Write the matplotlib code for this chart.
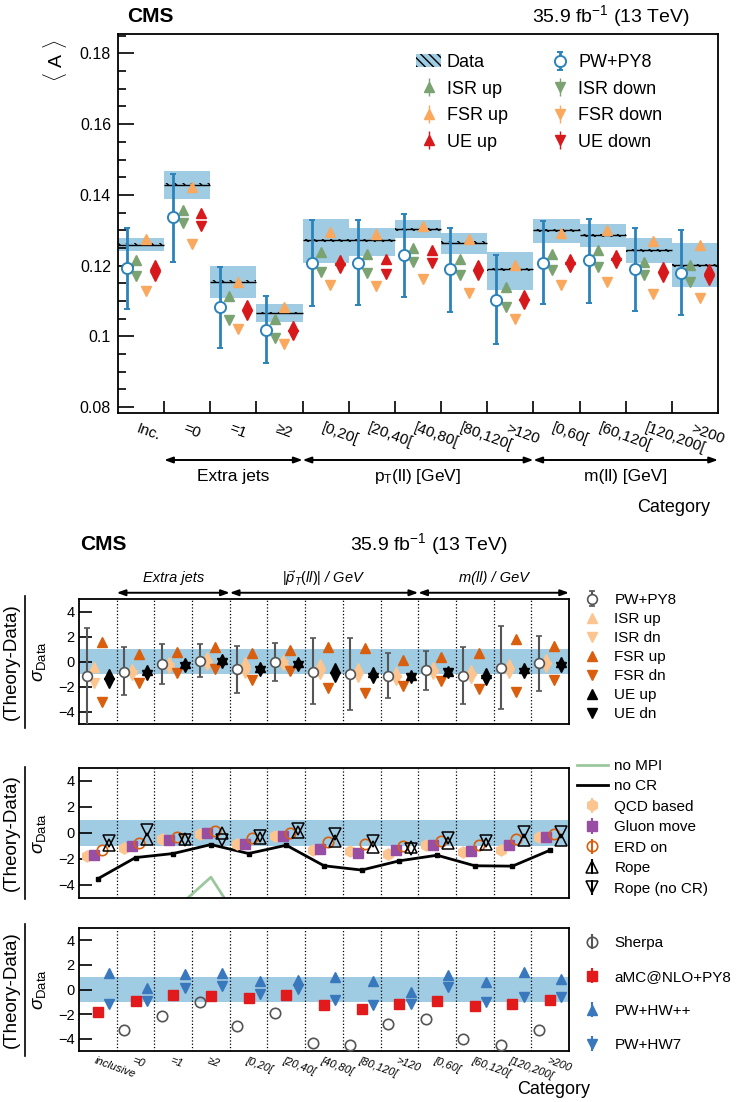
import numpy as np
import matplotlib
matplotlib.use('Agg')
import matplotlib.pyplot as plt
from matplotlib.patches import Patch
from matplotlib.lines import Line2D
from matplotlib.ticker import MultipleLocator

plt.rcParams['font.family'] = ['Liberation Sans', 'DejaVu Sans']
plt.rcParams['mathtext.fontset'] = 'custom'
plt.rcParams['mathtext.rm'] = 'Liberation Sans'
plt.rcParams['mathtext.it'] = 'Liberation Sans:italic'
plt.rcParams['mathtext.bf'] = 'Liberation Sans:bold'
plt.rcParams['hatch.linewidth'] = 1.0

'''
data - top panel <A>
'''
cats_top = ['Inc.', '=0', '=1', '≥2', '[0,20[', '[20,40[', '[40,80[', '[80,120[', '>120',
            '[0,60[', '[60,120[', '[120,200[', '>200']
cats_bot = ['inclusive', '=0', '=1', '≥2', '[0,20[', '[20,40[', '[40,80[', '[80,120[', '>120',
            '[0,60[', '[60,120[', '[120,200[', '>200']

data_A = np.array([0.1259, 0.1429, 0.1154, 0.1066, 0.1272, 0.1272, 0.1303, 0.1265, 0.1189, 0.1300, 0.1286, 0.1243, 0.1201])
data_hi = np.array([0.1279, 0.1468, 0.1199, 0.1092, 0.1333, 0.1307, 0.1328, 0.1293, 0.1239, 0.1333, 0.1319, 0.1279, 0.1264])
data_lo = np.array([0.1241, 0.1388, 0.1108, 0.1040, 0.1208, 0.1226, 0.1278, 0.1234, 0.1132, 0.1264, 0.1253, 0.1206, 0.1140])
pw_A = np.array([0.1192, 0.1336, 0.1083, 0.1019, 0.1206, 0.1208, 0.1229, 0.1189, 0.1102, 0.1206, 0.1215, 0.1189, 0.1179])
pw_hi = np.array([0.1307, 0.1458, 0.1196, 0.1115, 0.1328, 0.1328, 0.1347, 0.1307, 0.1229, 0.1326, 0.1333, 0.1307, 0.1300])
pw_lo = np.array([0.1076, 0.1210, 0.0967, 0.0925, 0.1085, 0.1088, 0.1111, 0.1069, 0.0979, 0.1091, 0.1094, 0.1072, 0.1059])
isr_up = np.array([0.1217, 0.1357, 0.1113, 0.1048, 0.1239, 0.1234, 0.1251, 0.1220, 0.1138, 0.1232, 0.1243, 0.1210, 0.1203])
isr_dn = np.array([0.1170, 0.1319, 0.1045, 0.0995, 0.1182, 0.1179, 0.1210, 0.1173, 0.1083, 0.1187, 0.1196, 0.1173, 0.1154])
fsr_up = np.array([0.1274, 0.1423, 0.1154, 0.1084, 0.1295, 0.1288, 0.1311, 0.1274, 0.1201, 0.1291, 0.1300, 0.1270, 0.1258])
fsr_dn = np.array([0.1127, 0.1262, 0.1022, 0.0977, 0.1144, 0.1142, 0.1163, 0.1123, 0.1050, 0.1144, 0.1154, 0.1121, 0.1107])
ue_up = np.array([0.1203, 0.1349, 0.1088, 0.1028, 0.1215, 0.1220, 0.1243, 0.1201, 0.1117, 0.1220, 0.1229, 0.1196, 0.1189])
ue_dn = np.array([0.1170, 0.1311, 0.1059, 0.1005, 0.1192, 0.1177, 0.1206, 0.1173, 0.1092, 0.1196, 0.1206, 0.1168, 0.1158])

'''
(Theory-Data)/sigma - panel 1
'''
pw1 = np.array([-1.15, -0.8, -0.2, 0.08, -0.6, 0.0, -0.8, -1.0, -1.15, -0.67, -1.12, -0.48, -0.08])
pw1_hi = np.array([2.67, 1.2, 1.4, 1.4, 1.25, 1.47, 1.92, 1.92, 0.72, 0.88, 1.2, 2.88, 2.05])
pw1_lo = np.array([-5.2, -2.67, -1.8, -1.2, -2.48, -1.52, -3.41, -3.9, -2.93, -2.27, -3.39, -3.8, -2.35])
isr1_up = np.array([-0.4, -0.6, 0.0, 0.4, 0.0, 0.13, -0.19, -0.53, -0.8, -0.4, -0.67, -0.19, 0.19])
isr1_dn = np.array([-1.68, -1.1, -0.55, -0.27, -0.93, -0.27, -1.01, -1.2, -1.47, -1.0, -1.33, -0.93, -0.45])
fsr1_up = np.array([1.6, 0.6, 0.8, 1.15, 0.72, 0.93, 1.15, 1.07, 0.13, 0.4, 0.67, 1.81, 1.25])
fsr1_dn = np.array([-3.2, -1.75, -0.9, -0.6, -1.47, -0.72, -2.08, -2.53, -1.95, -1.52, -2.19, -2.4, -1.47])
ue1_up = np.array([-1.0, -0.67, -0.15, 0.2, -0.45, 0.0, -0.53, -0.8, -1.1, -0.72, -0.88, -0.53, 0.0])
ue1_dn = np.array([-1.73, -1.07, -0.4, -0.13, -0.72, -0.35, -1.2, -1.33, -1.3, -0.93, -1.47, -0.93, -0.4])

'''
panel 2 - alternative models
'''
no_mpi = np.array([-12.0, -10.0, -6.0, -3.4, -7.9, -10.0, -12.0, -12.0, -11.0, -10.0, -12.0, -12.0, -10.0])
no_cr = np.array([-3.52, -1.89, -1.58, -0.89, -1.58, -0.94, -2.52, -2.85, -2.14, -1.71, -2.52, -2.55, -1.32])
qcd = np.array([-1.76, -1.12, -0.45, -0.1, -0.87, -0.25, -1.27, -1.4, -1.63, -0.94, -1.45, -1.27, -0.31])
gluon = np.array([-1.66, -1.02, -0.55, 0.0, -0.82, -0.23, -1.25, -1.5, -1.32, -0.94, -1.4, -0.89, -0.31])
erd = np.array([-1.27, -0.76, -0.3, 0.15, -0.38, 0.0, -0.69, -0.87, -0.99, -0.61, -0.94, -0.48, -0.1])
rope = np.array([-0.94, -0.48, -0.45, 0.0, -0.4, 0.05, -0.6, -1.1, -1.1, -0.75, -0.85, -0.55, -0.55])
rope_nocr = np.array([-0.61, 0.2, -0.5, -0.5, -0.2, 0.3, -0.1, -0.6, -1.25, -0.4, -0.6, 0.1, 0.1])

'''
panel 3 - other generators
'''
sherpa = np.array([-5.8, -3.32, -2.18, -1.01, -2.99, -1.90, -4.35, -4.54, -2.83, -2.37, -4.05, -4.49, -3.32])
amc = np.array([-1.82, -0.93, -0.46, -0.52, -0.68, -0.46, -1.28, -1.61, -1.2, -0.93, -1.36, -1.14, -0.82])
hwpp = np.array([1.36, 0.16, 1.22, 1.31, 0.71, 0.76, 1.03, 0.71, -0.24, 1.17, 0.57, 1.39, 0.82])
hw7 = np.array([-1.2, -0.93, 0.16, 0.27, -0.38, 0.08, -0.82, -1.28, -1.2, 0.22, -1.01, -0.65, -0.6])

# farby
band = '#9fcbe3'
blue = '#2b83ba'
green = '#7ba271'
lorange = '#f9a85e'
red = '#d7191c'
peach = '#fcc58f'
dorange = '#d95f0e'
gray = '#555555'
purple = '#984ea3'
hwblue = '#3a78bd'

W, H = 749, 1102
def box(l, t, r, b):
    return [l/W, 1-b/H, (r-l)/W, (b-t)/H]

fig = plt.figure(figsize=(W/100, H/100), dpi=100)
ax0 = fig.add_axes(box(118, 34, 718, 413))
ax1 = fig.add_axes(box(79, 599, 569, 724))
ax2 = fig.add_axes(box(79, 768, 569, 898))
ax3 = fig.add_axes(box(79, 928, 569, 1051))

x = np.arange(len(cats_top))

'''
horny panel
'''
ax0.bar(x, data_hi-data_lo, bottom=data_lo, width=1, align='edge', color=band, lw=0, zorder=1)
ax0.bar(x, 0.0008, bottom=data_A-0.0004, width=1, align='edge', facecolor='none',
        edgecolor='k', hatch='\\\\\\\\', lw=0, zorder=2)
ax0.hlines(data_A, x, x+1, color='k', lw=1, zorder=2)
h_pw = ax0.errorbar(x+0.2, pw_A, yerr=[pw_A-pw_lo, pw_hi-pw_A], fmt='o', mfc='white', mec=blue,
                    ms=8, mew=1.4, ecolor=blue, elinewidth=2, capsize=2, zorder=4)
def tri(ax, xs, ys, m, c, ms=7):
    return ax.errorbar(xs, ys, yerr=0*ys, fmt=m, color=c, ms=ms, elinewidth=1, zorder=3)
h_isru = tri(ax0, x+0.4, isr_up, '^', green)
h_isrd = tri(ax0, x+0.4, isr_dn, 'v', green)
h_fsru = tri(ax0, x+0.6, fsr_up, '^', lorange)
h_fsrd = tri(ax0, x+0.6, fsr_dn, 'v', lorange)
h_ueu = tri(ax0, x+0.8, ue_up, '^', red)
h_ued = tri(ax0, x+0.8, ue_dn, 'v', red)
h_data = (Patch(facecolor=band, lw=0), Patch(facecolor='none', edgecolor='k', hatch='\\\\\\\\', lw=0))

ax0.legend([h_data, h_isru, h_fsru, h_ueu, h_pw, h_isrd, h_fsrd, h_ued],
           ['Data', 'ISR up', 'FSR up', 'UE up', 'PW+PY8', 'ISR down', 'FSR down', 'UE down'],
           ncol=2, frameon=False, fontsize=13, loc='upper left',
           bbox_to_anchor=(416/W, 1-54/H), bbox_transform=fig.transFigure,
           borderpad=0, borderaxespad=0, handlelength=1.4, handletextpad=0.3,
           columnspacing=2.2, labelspacing=0.53)

ax0.set_xlim(0, 13)
ax0.set_ylim(0.0783, 0.1855)
ax0.set_xticks(range(1, 13))
ax0.set_xticklabels([])
ax0.set_yticks([0.08, 0.1, 0.12, 0.14, 0.16, 0.18])
ax0.set_yticklabels(['0.08', '0.1', '0.12', '0.14', '0.16', '0.18'])
ax0.yaxis.set_minor_locator(MultipleLocator(0.005))
ax0.tick_params(axis='x', direction='in', length=9, width=1.2)
ax0.tick_params(axis='y', which='major', direction='in', length=11.5, width=1.2, labelsize=11.5, pad=5)
ax0.tick_params(axis='y', which='minor', direction='in', length=6, width=1.2)
for s in ax0.spines.values():
    s.set_linewidth(1.3)

for i, lab in enumerate(cats_top):
    ax0.annotate(lab, xy=(i+0.5, 0), xycoords=('data', 'axes fraction'), xytext=(-1, -6),
                 textcoords='offset points', rotation=-20, rotation_mode='anchor',
                 ha='left', va='top', fontsize=11, annotation_clip=False)

def arrows(ax, spans, y, ty, fs, style):
    for x0, x1, lab in spans:
        ax.annotate('', xy=(x1, y), xytext=(x0, y), xycoords=('data', 'axes fraction'),
                    arrowprops=dict(arrowstyle='<|-|>,head_length=0.5,head_width=0.18',
                                    color='k', lw=1.4, shrinkA=0, shrinkB=0),
                    annotation_clip=False)
        ax.text((x0+x1)/2, ty, lab, transform=ax.get_xaxis_transform(), ha='center',
                va='center', fontsize=fs, style=style)

arrows(ax0, [(1, 4, 'Extra jets'), (4, 9, r'p$_\mathregular{T}$(ll) [GeV]'), (9, 13, 'm(ll) [GeV]')],
       (413-460)/379, (413-476)/379, 12.5, 'normal')
fig.text(710/W, 1-507/H, 'Category', ha='right', va='center', fontsize=13)
fig.text(127/W, 1-16/H, 'CMS', ha='left', va='center', fontsize=15, fontweight='bold')
fig.text(690/W, 1-16/H, '35.9 fb$^{-1}$ (13 TeV)', ha='right', va='center', fontsize=14)
fig.text(55/W, 1-40/H, r'$\langle$ A $\rangle$', rotation=90, ha='center', va='top', fontsize=14)

'''
dolne panely
'''
for ax in (ax1, ax2, ax3):
    ax.axhspan(-1, 1, color=band, lw=0, zorder=0)
    for e in range(1, 13):
        ax.axvline(e, color='k', ls=':', lw=0.9, zorder=1)
    ax.set_xlim(0, 13)
    ax.set_ylim(-5, 5)
    ax.set_xticks([])
    ax.set_yticks([-4, -2, 0, 2, 4])
    ax.tick_params(axis='y', direction='in', length=9, width=1.2, labelsize=10.5, pad=3)
    for s in ax.spines.values():
        s.set_linewidth(1.3)
    pos = ax.get_position()
    yc = (pos.y0+pos.y1)/2
    fig.text(11/W, yc, '(Theory-Data)', rotation=90, ha='center', va='center', fontsize=13.5)
    fig.text(39/W, yc, r'$\sigma_{\mathregular{Data}}$', rotation=90, ha='center', va='center', fontsize=13.5)
    fig.add_artist(Line2D([25/W, 25/W], [yc-66/H, yc+66/H], transform=fig.transFigure, color='k', lw=1.2))

# panel 1
h1_pw = ax1.errorbar(x+0.2, pw1, yerr=[pw1-pw1_lo, pw1_hi-pw1], fmt='o', mfc='white', mec=gray,
                     ms=7, mew=1.2, ecolor=gray, elinewidth=1.5, capsize=2, zorder=4)
h1_isru, = ax1.plot(x+0.4, isr1_up, '^', color=peach, ms=6.5, ls='none', zorder=3)
h1_isrd, = ax1.plot(x+0.4, isr1_dn, 'v', color=peach, ms=6.5, ls='none', zorder=3)
h1_fsru, = ax1.plot(x+0.6, fsr1_up, '^', color=dorange, ms=6.5, ls='none', zorder=3)
h1_fsrd, = ax1.plot(x+0.6, fsr1_dn, 'v', color=dorange, ms=6.5, ls='none', zorder=3)
h1_ueu, = ax1.plot(x+0.8, ue1_up, '^', color='k', ms=6.5, ls='none', zorder=3)
h1_ued, = ax1.plot(x+0.8, ue1_dn, 'v', color='k', ms=6.5, ls='none', zorder=3)
leg_kw = dict(frameon=False, fontsize=11, loc='upper left', bbox_transform=fig.transFigure,
              borderpad=0, borderaxespad=0, handlelength=2.0, handletextpad=0.45)
ax1.legend([h1_pw, h1_isru, h1_isrd, h1_fsru, h1_fsrd, h1_ueu, h1_ued],
           ['PW+PY8', 'ISR up', 'ISR dn', 'FSR up', 'FSR dn', 'UE up', 'UE dn'],
           bbox_to_anchor=(577/W, 1-593/H), labelspacing=0.33, **leg_kw)
arrows(ax1, [(1, 4, 'Extra jets'), (4, 9, r'$|\vec{p}_{T}(ll)|$ / GeV'), (9, 13, 'm(ll) / GeV')],
       1.05, 1.165, 10.5, 'italic')
fig.text(80/W, 1-544/H, 'CMS', ha='left', va='center', fontsize=15, fontweight='bold')
fig.text(508/W, 1-544/H, '35.9 fb$^{-1}$ (13 TeV)', ha='right', va='center', fontsize=14)

# panel 2
h2_mpi, = ax2.plot(x+0.5, no_mpi, color='#9cc79c', lw=2, zorder=2)
h2_cr, = ax2.plot(x+0.5, no_cr, color='k', lw=2, marker='s', ms=3, zorder=2)
h2_qcd = ax2.errorbar(x+0.2, qcd, yerr=0*qcd, fmt='h', color=peach, ms=8, zorder=3)
h2_glu = ax2.errorbar(x+0.4, gluon, yerr=0*gluon, fmt='s', color=purple, ms=7, zorder=3)
h2_erd = ax2.errorbar(x+0.6, erd, yerr=0*erd, fmt='o', mfc='none', mec=dorange, ecolor=dorange,
                      ms=7.5, mew=1.2, zorder=3)
h2_rope = ax2.errorbar(x+0.8, rope, yerr=0*rope, fmt='^', mfc='none', mec='k', ecolor='k',
                       ms=9, mew=1.1, zorder=3)
h2_rnc = ax2.errorbar(x+0.8, rope_nocr, yerr=0*rope_nocr, fmt='v', mfc='none', mec='k', ecolor='k',
                      ms=9, mew=1.1, zorder=3)
h2_crl = Line2D([], [], color='k', lw=2)
ax2.legend([h2_mpi, h2_crl, h2_qcd, h2_glu, h2_erd, h2_rope, h2_rnc],
           ['no MPI', 'no CR', 'QCD based', 'Gluon move', 'ERD on', 'Rope', 'Rope (no CR)'],
           bbox_to_anchor=(577/W, 1-759/H), labelspacing=0.42, **leg_kw)

# panel 3
h3_sh = ax3.errorbar(x+0.2, sherpa, yerr=0*sherpa, fmt='o', mfc='none', mec=gray, ecolor=gray,
                     ms=7.5, mew=1.2, zorder=3)
h3_amc = ax3.errorbar(x+0.5, amc, yerr=0*amc, fmt='s', color='#e31a1c', ms=7.5, zorder=3)
h3_hwpp = ax3.errorbar(x+0.8, hwpp, yerr=0*hwpp, fmt='^', color=hwblue, ms=7.5, zorder=3)
h3_hw7 = ax3.errorbar(x+0.8, hw7, yerr=0*hw7, fmt='v', color=hwblue, ms=7.5, zorder=3)
ax3.legend([h3_sh, h3_amc, h3_hwpp, h3_hw7],
           ['Sherpa', 'aMC@NLO+PY8', 'PW+HW++', 'PW+HW7'],
           bbox_to_anchor=(577/W, 1-936/H), labelspacing=1.31, **leg_kw)
for i, lab in enumerate(cats_bot):
    ax3.annotate(lab, xy=(i+0.5, 0), xycoords=('data', 'axes fraction'), xytext=(-1, -3),
                 textcoords='offset points', rotation=-20, rotation_mode='anchor',
                 ha='left', va='top', fontsize=8, style='italic', annotation_clip=False)
fig.text(590/W, 1-1089/H, 'Category', ha='right', va='center', fontsize=13)

fig.savefig('out.png', dpi=100)
